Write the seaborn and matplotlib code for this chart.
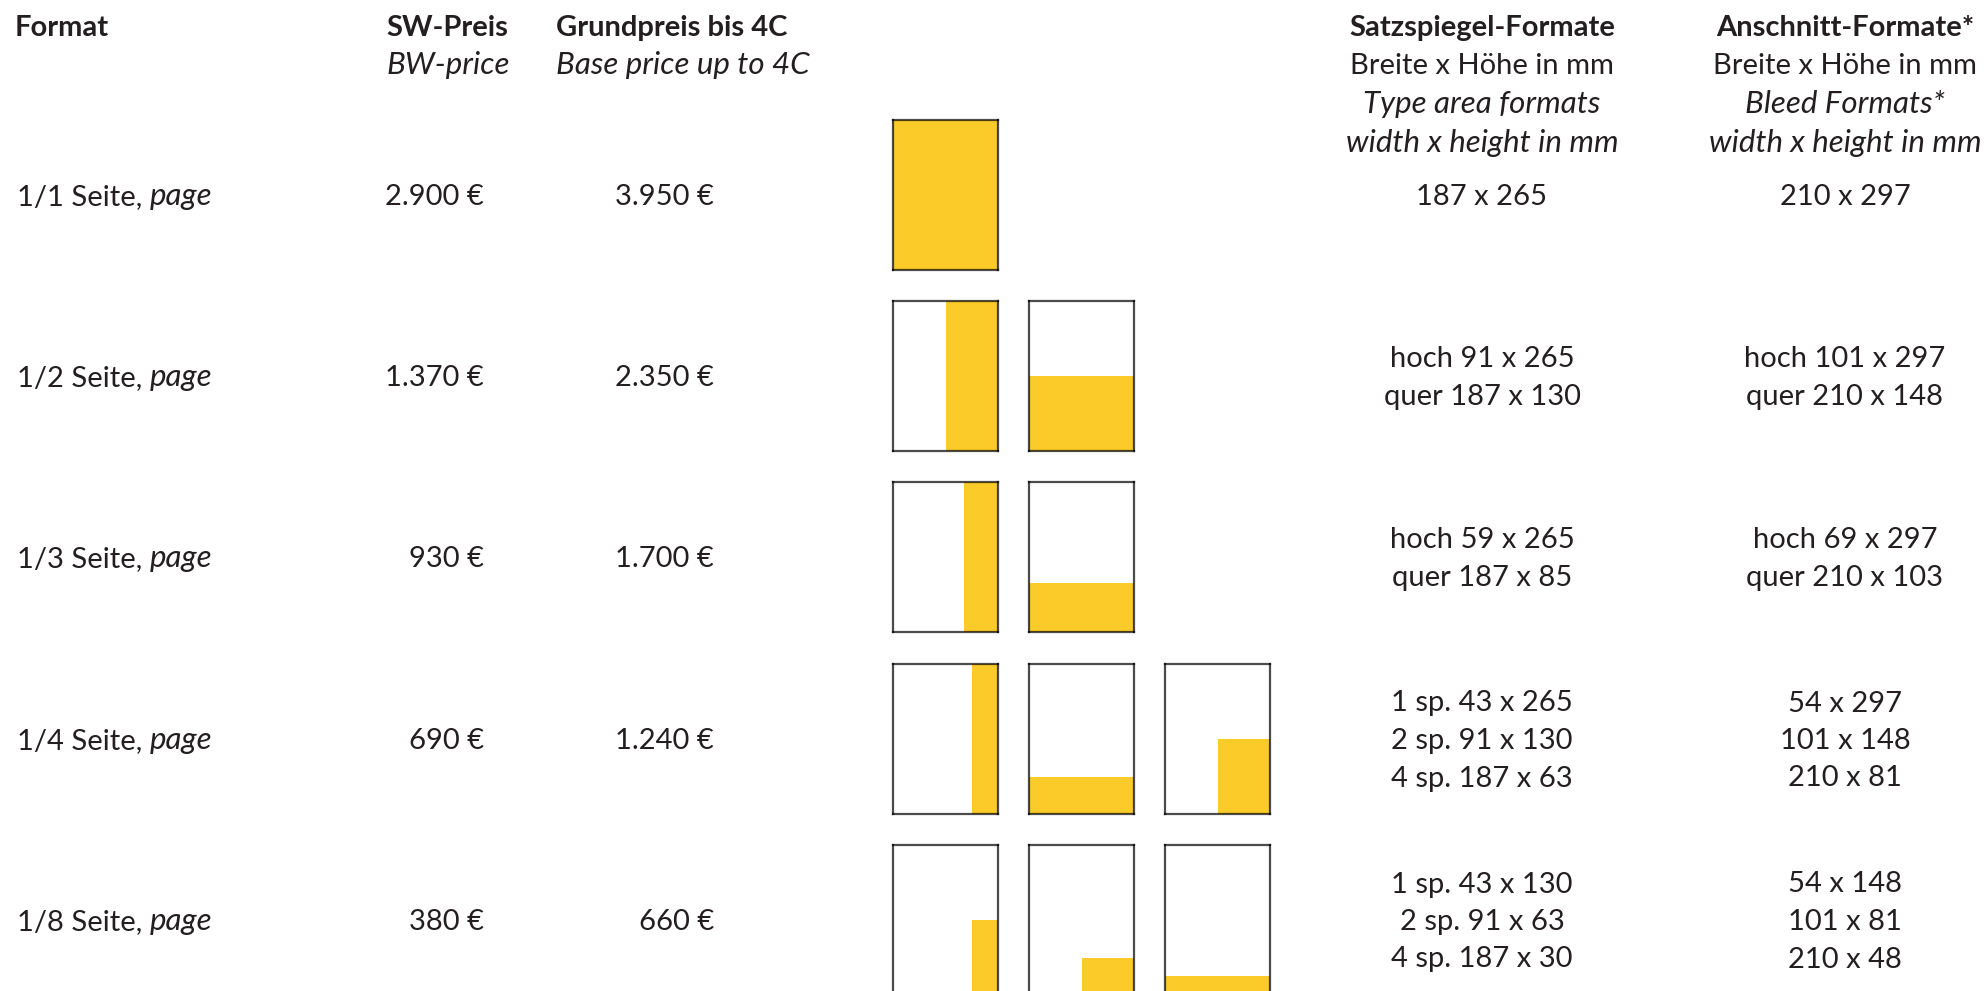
import matplotlib
matplotlib.use("Agg")
import matplotlib.pyplot as plt
import seaborn as sns

sns.set_theme(style="white")
plt.rcParams["font.family"] = ["Lato", "DejaVu Sans"]

# table content
formats = ["1/1 Seite,", "1/2 Seite,", "1/3 Seite,", "1/4 Seite,", "1/8 Seite,"]
sw_preis = ["2.900 €", "1.370 €", "930 €", "690 €", "380 €"]
grundpreis = ["3.950 €", "2.350 €", "1.700 €", "1.240 €", "660 €"]
satzspiegel = [
    ["187 x 265"],
    ["hoch 91 x 265", "quer 187 x 130"],
    ["hoch 59 x 265", "quer 187 x 85"],
    ["1 sp. 43 x 265", "2 sp. 91 x 130", "4 sp. 187 x 63"],
    ["1 sp. 43 x 130", "2 sp. 91 x 63", "4 sp. 187 x 30"],
]
anschnitt = [
    ["210 x 297"],
    ["hoch 101 x 297", "quer 210 x 148"],
    ["hoch 69 x 297", "quer 210 x 103"],
    ["54 x 297", "101 x 148", "210 x 81"],
    ["54 x 148", "101 x 81", "210 x 48"],
]
# share of the page covered by the ad (width, height), anchored bottom right
fill_w = [[1.0], [0.5, 1.0], [0.32, 1.0], [0.25, 1.0, 0.5], [0.25, 0.5, 1.0]]
fill_h = [[1.0], [1.0, 0.5], [1.0, 0.33], [1.0, 0.25, 0.5], [0.5, 0.25, 0.125]]

W, H = 1984, 991
INK = "#231f20"
YELLOW = "#facb29"
FS = 21
FS_IT = 22.5

fig = plt.figure(figsize=(W / 100, H / 100), dpi=100)
ax = fig.add_axes([0, 0, 1, 1])
ax.set_xlim(0, W)
ax.set_ylim(H, 0)
ax.axis("off")


def txt(x, y, s, ha="left", size=FS, **kw):
    return ax.text(x, y, s, ha=ha, va="baseline", fontsize=size, color=INK, **kw)


# header
txt(15, 36, "Format", fontweight="bold")
txt(386, 36, "SW-Preis", fontweight="bold")
txt(386, 74, "BW-price", size=FS_IT, style="italic")
txt(556, 36, "Grundpreis bis 4C", fontweight="bold")
txt(556, 74, "Base price up to 4C", size=FS_IT, style="italic")
for cx, head, sub in [(1482, "Satzspiegel-Formate", "Type area formats"),
                      (1845, "Anschnitt-Formate*", "Bleed Formats*")]:
    txt(cx, 36, head, ha="center", fontweight="bold")
    txt(cx, 74, "Breite x Höhe in mm", ha="center")
    txt(cx, 113, sub, ha="center", size=FS_IT, style="italic")
    txt(cx, 152, "width x height in mm", ha="center", size=FS_IT, style="italic")

row_top = [120, 301, 482, 664, 845]
box_x = [893, 1029, 1165]
box_w, box_h = 105, 150
line_gap = 37.5

fig.canvas.draw()
renderer = fig.canvas.get_renderer()

for i, fmt in enumerate(formats):
    mid = row_top[i] + box_h / 2
    base = mid + 10
    t = txt(17, base, fmt)
    x1 = t.get_window_extent(renderer).x1
    txt(x1 + 7, base, "page", size=FS_IT, style="italic")
    txt(484, base, sw_preis[i], ha="right")
    txt(714, base, grundpreis[i], ha="right")

    n = len(satzspiegel[i])
    for k in range(n):
        yb = base + (k - (n - 1) / 2) * line_gap
        txt(1482, yb, satzspiegel[i][k], ha="center")
        txt(1845, yb, anschnitt[i][k], ha="center")

    # page diagrams
    for j, (w, h) in enumerate(zip(fill_w[i], fill_h[i])):
        x0 = box_x[j]
        y0 = row_top[i]
        bx = fig.add_axes([x0 / W, 1 - (y0 + box_h) / H, box_w / W, box_h / H])
        bx.bar([1 - w], [h], width=w, align="edge", color=YELLOW, linewidth=0)
        bx.set_xlim(0, 1)
        bx.set_ylim(0, 1)
        bx.set_xticks([])
        bx.set_yticks([])
        bx.set_facecolor("white")
        for sp in bx.spines.values():
            sp.set_visible(True)
            sp.set_color((0, 0, 0, 0.7))
            sp.set_linewidth(1.6)

fig.savefig("out.png", dpi=100, facecolor="white")
